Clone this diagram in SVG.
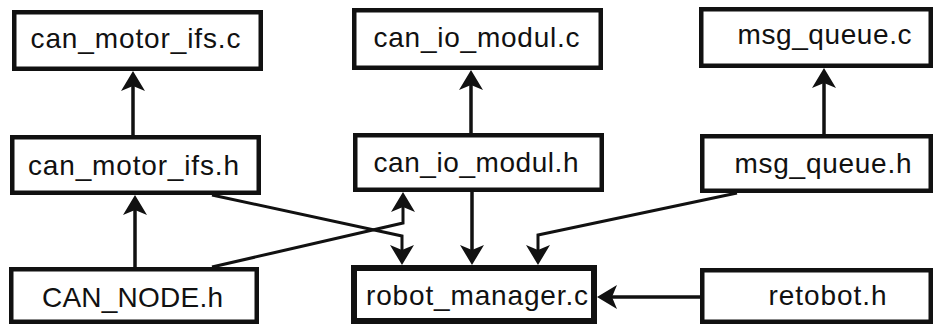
<svg xmlns="http://www.w3.org/2000/svg" width="941" height="326" viewBox="0 0 941 326">
  <style>
    .box { fill: #fff; stroke: #111; stroke-width: 4.5; }
    .box.main { stroke-width: 6; }
    .label { font-family: "Liberation Sans", Arial, sans-serif; font-size: 28px; fill: #111; text-anchor: middle; }
    .link { fill: none; stroke: #111; stroke-width: 3.5; marker-end: url(#arrow); }
    .link.diag { stroke-width: 3; }
  </style>
  <defs>
    <marker id="arrow" viewBox="-30 -14 32 28" refX="-8" refY="0" markerWidth="32" markerHeight="28" markerUnits="userSpaceOnUse" orient="auto">
      <path d="M0,0 L-20,-12 L-15,0 L-20,12 Z" fill="#111"/>
    </marker>
  </defs>

  <!-- dependency connectors -->
  <g id="connectors">
    <path class="link" d="M133,135 V79"/>
    <path class="link" d="M135,267 V203"/>
    <path class="link" d="M471,133 V78"/>
    <path class="link" d="M824,134 V76"/>
    <path class="link" d="M472,192 V257"/>
    <path class="link diag" d="M212,195 L402,236 V257"/>
    <path class="link diag" d="M212,267 L403,223 V200"/>
    <path class="link diag" d="M737,193 L538,235 V257"/>
    <path class="link" d="M700,297 H605"/>
  </g>

  <!-- file nodes -->
  <g id="can_motor_ifs_c">
    <rect class="box" x="14.25" y="12.25" width="246.5" height="56.5"/>
    <text class="label" x="135.5" y="48" textLength="210" lengthAdjust="spacing">can_motor_ifs.c</text>
  </g>
  <g id="can_io_modul_c">
    <rect class="box" x="354.25" y="10.25" width="246.5" height="57.5"/>
    <text class="label" x="476.5" y="47" textLength="206" lengthAdjust="spacing">can_io_modul.c</text>
  </g>
  <g id="msg_queue_c">
    <rect class="box" x="701.25" y="9.25" width="229.5" height="56.5"/>
    <text class="label" x="824.5" y="44" textLength="174" lengthAdjust="spacing">msg_queue.c</text>
  </g>
  <g id="can_motor_ifs_h">
    <rect class="box" x="12.25" y="137.25" width="246.5" height="55.5"/>
    <text class="label" x="133.5" y="175" textLength="211" lengthAdjust="spacing">can_motor_ifs.h</text>
  </g>
  <g id="can_io_modul_h">
    <rect class="box" x="355.25" y="135.25" width="246.5" height="54.5"/>
    <text class="label" x="476" y="172" textLength="205" lengthAdjust="spacing">can_io_modul.h</text>
  </g>
  <g id="msg_queue_h">
    <rect class="box" x="702.25" y="136.25" width="228.5" height="54.5"/>
    <text class="label" x="823" y="173" textLength="177" lengthAdjust="spacing">msg_queue.h</text>
  </g>
  <g id="CAN_NODE_h">
    <rect class="box" x="11.25" y="269.25" width="245.5" height="52.5"/>
    <text class="label" x="132.5" y="307" textLength="181" lengthAdjust="spacing">CAN_NODE.h</text>
  </g>
  <g id="robot_manager_c">
    <rect class="box main" x="354" y="268" width="240" height="53"/>
    <text class="label" x="477" y="305" textLength="222" lengthAdjust="spacing">robot_manager.c</text>
  </g>
  <g id="retobot_h">
    <rect class="box" x="702.25" y="270.25" width="228.5" height="51.5"/>
    <text class="label" x="827.5" y="305" textLength="118" lengthAdjust="spacing">retobot.h</text>
  </g>
</svg>
